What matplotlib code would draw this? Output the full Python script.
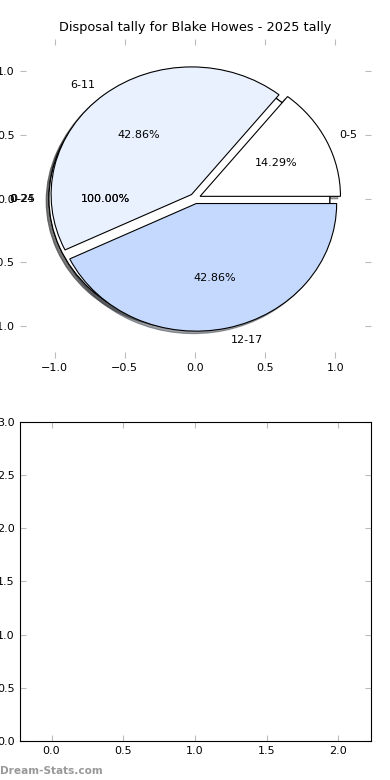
import numpy as np
import matplotlib
matplotlib.use('Agg')
import matplotlib.pyplot as plt

plt.rcParams['font.family'] = ['DejaVu Sans']
plt.rcParams['font.size'] = 8

# disposal bins and counts
labels = ['0-5', '6-11', '12-17']
counts = [1, 3, 3]
colors = ['#ffffff', '#eaf1fe', '#c5d9fe']
explode = [0.04, 0.04, 0.04]

# full-circle background pies (single wedge each)
bg_labels = ['0-24', '0-25']
bg_counts = [1]

ticks = [-1.0, -0.5, 0.0, 0.5, 1.0]
bar_xticks = [0.0, 0.5, 1.0, 1.5, 2.0]
bar_yticks = [0.0, 0.5, 1.0, 1.5, 2.0, 2.5, 3.0]

fig = plt.figure(figsize=(3.9, 7.8), dpi=100)
gs = fig.add_gridspec(2, 1, left=0.05, right=0.95, top=0.95, bottom=0.05, hspace=0.2)
ax = fig.add_subplot(gs[0])
ax2 = fig.add_subplot(gs[1])

shadow = {'ox': -0.014, 'oy': -0.014}
for lab in bg_labels:
    ax.pie(bg_counts, labels=[lab], colors=['#ffffff'], explode=[0.04], autopct='%.2f%%',
           shadow=shadow, wedgeprops={'edgecolor': 'black', 'linewidth': 0.8})

ax.pie(counts, labels=labels, colors=colors, explode=explode, autopct='%.2f%%',
       shadow=shadow, wedgeprops={'edgecolor': 'black', 'linewidth': 0.8})

ax.set_aspect('auto')
ax.set_xlim(-1.25, 1.25)
ax.set_ylim(-1.25, 1.25)
ax.set_frame_on(False)
ax.set_xticks(ticks)
ax.set_yticks(ticks)
ax.tick_params(direction='in', color='#bbbbbb', length=4, top=True, right=True)
ax.set_title('Disposal tally for Blake Howes - 2025 tally', fontsize=9.3)

ax2.set_xlim(-0.223, 2.223)
ax2.set_ylim(0, 3)
ax2.set_xticks(bar_xticks)
ax2.set_yticks(bar_yticks)
ax2.tick_params(direction='in', color='#bbbbbb', length=4, top=True, right=True)

fig.text(0.0, 0.008, 'Dream-Stats.com', color='#999999', fontsize=7.6, fontweight='bold')

fig.savefig('out.png', dpi=100)
